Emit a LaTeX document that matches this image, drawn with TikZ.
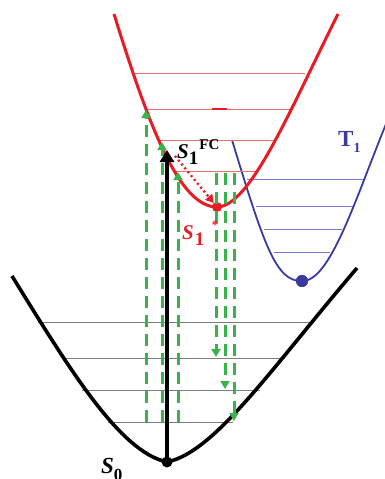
\documentclass[tikz,border=0pt]{standalone}
\usepackage{fontspec}
\newfontfamily\lblfont{Liberation Serif}
\usetikzlibrary{arrows.meta}
\definecolor{redc}{RGB}{232,28,36}
\definecolor{redl}{RGB}{238,110,110}
\definecolor{bluec}{RGB}{58,58,160}
\definecolor{bluel}{RGB}{120,120,205}
\definecolor{greenc}{RGB}{58,180,74}
\definecolor{grayl}{RGB}{125,125,125}
\tikzset{
  redcurve/.style={redc, line width=3pt, line join=round},
  bluecurve/.style={bluec, line width=1.8pt},
  blackcurve/.style={black, line width=3.6pt},
  redlevel/.style={redl, line width=1pt},
  bluelevel/.style={bluel, line width=1pt},
  graylevel/.style={grayl, line width=1pt},
  greenarrow/.style={greenc, line width=3pt, dash pattern=on 12pt off 7pt, -{Triangle[width=9pt,length=8pt]}},
  dotnode/.style={circle, inner sep=0pt, minimum size=#1},
  lbl/.style={inner sep=0pt, anchor=base west, font=\lblfont\bfseries},
}
\begin{document}
\begin{tikzpicture}[x=1pt,y=-1pt]
\useasboundingbox (0,0) rectangle (384,479);
% T1 curve and levels
\draw[bluelevel] (247,179) -- (365,179);
\draw[bluelevel] (256,206) -- (353,206);
\draw[bluelevel] (264,229) -- (342,229);
\draw[bluelevel] (274,252) -- (330,252);
\node[dotnode=12pt, fill=bluec] (tmin) at (302,281) {};
\draw[bluecurve] (232,140) .. controls (264,245) and (276,282) .. (tmin.center)
  .. controls (330,282) and (355,200) .. (386,124);
\node[dotnode=12pt, fill=bluec] at (tmin) {};
% S1 curve and levels
\draw[redlevel] (135,73) -- (305,73);
\draw[redlevel] (146,109) -- (290,109);
\draw[redc, line width=2pt] (212,109) -- (227,109);
\draw[redlevel] (158,140) -- (273,140);
\draw[redlevel] (175,171) -- (257,171);
\node[dotnode=10pt, fill=redc] (smin) at (217,207) {};
\draw[redcurve] (114,14) .. controls (150,130) and (180,207) .. (smin.center)
  .. controls (250,207) and (290,110) .. (338,14);
% S0 curve and levels
\draw[graylevel] (38,322) -- (312,322);
\draw[graylevel] (62,358) -- (285,358);
\draw[graylevel] (82,390) -- (260,390);
\draw[graylevel] (108,422) -- (233,422);
\node[dotnode=11pt, fill=black] (s0min) at (167,462) {};
\draw[blackcurve] (12,276) .. controls (70,370) and (120,452) .. (s0min.center)
  .. controls (215,452) and (270,370) .. (357,268);
% green arrows
\coordinate (a1s) at (146,422); \coordinate (a1e) at (146,110);
\coordinate (a2s) at (162,422); \coordinate (a2e) at (162,142);
\coordinate (a3s) at (178,422); \coordinate (a3e) at (178,172);
\coordinate (d1s) at (216,173); \coordinate (d1e) at (216,357);
\coordinate (d2s) at (225,173); \coordinate (d2e) at (225,389);
\coordinate (d3s) at (234,173); \coordinate (d3e) at (234,421);
\draw[greenarrow] (a1s) -- (a1e);
\draw[greenarrow] (a2s) -- (a2e);
\draw[greenarrow] (a3s) -- (a3e);
\draw[greenarrow] (d1s) -- (d1e);
\draw[greenarrow] (d2s) -- (d2e);
\draw[greenarrow] (d3s) -- (d3e);
% black excitation arrow
\coordinate (fc) at (167,150);
\draw[black, line width=3.6pt, -{Triangle[width=14pt,length=12pt]}] (s0min.center) -- (fc);
% red dotted relaxation
\coordinate (rs) at (175,156);
\draw[redc, line width=2.4pt, dash pattern=on 2pt off 3pt, -{Triangle[width=9pt,length=8pt]}] (rs) -- (smin);
% labels
\node[lbl] (lfc) at (177,158) {\fontsize{21}{21}\selectfont\itshape S\raisebox{-6pt}{\fontsize{19}{19}\selectfont\upshape 1}\hspace{1pt}\raisebox{9pt}{\fontsize{15}{15}\selectfont\upshape FC}};
\node[lbl, text=redc] (ls1) at (182,239) {\fontsize{21}{21}\selectfont\itshape S\hspace{1pt}\raisebox{-6pt}{\fontsize{19}{19}\selectfont\upshape 1}};
\node[text=redc, inner sep=0pt, font=\lblfont\bfseries] (ast) at (215,225) {\fontsize{13}{13}\selectfont *};
\node[lbl] (ls0) at (101,473) {\fontsize{23}{23}\selectfont\itshape S\raisebox{-7pt}{\fontsize{17}{17}\selectfont\upshape 0}};
\node[lbl, text=bluec] (lt1) at (338,146) {\fontsize{23}{23}\selectfont T\raisebox{-6pt}{\fontsize{14}{14}\selectfont 1}};
\end{tikzpicture}
\end{document}
